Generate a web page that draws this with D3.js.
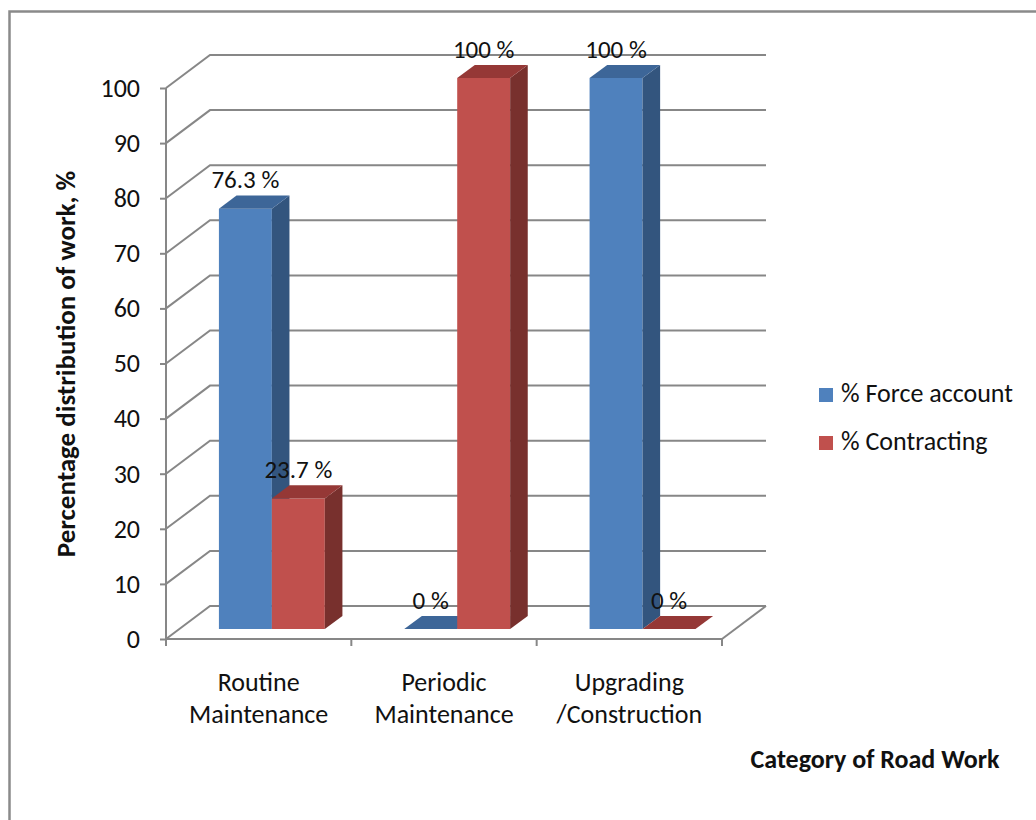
<!DOCTYPE html>
<html>
<head>
<meta charset="utf-8">
<script src="https://cdn.jsdelivr.net/npm/d3@7"></script>
<style>
  html, body { margin: 0; padding: 0; background: #fff; }
  svg text { font-family: Carlito, Calibri, Lato, "Open Sans", sans-serif; fill: #111; }
</style>
</head>
<body>
<svg id="chart" width="1036" height="820"></svg>
<script>
// Work distribution by road-work category
const categories = [["Routine", "Maintenance"], ["Periodic", "Maintenance"], ["Upgrading", "/Construction"]];
const seriesNames = ["% Force account", "% Contracting"];
const forceAccount = [76.3, 0, 100];
const contracting = [23.7, 100, 0];
const valueLabels = [["76.3 %", "0 %", "100 %"], ["23.7 %", "100 %", "0 %"]];
const yTicks = [0, 10, 20, 30, 40, 50, 60, 70, 80, 90, 100];

const seriesValues = [forceAccount, contracting];
const palette = [
  { front: "#4F81BD", top: "#3D6698", side: "#33557E" },
  { front: "#C0504D", top: "#953836", side: "#78302D" }
];

const svg = d3.select("#chart");

// Outer chart frame
svg.append("rect")
  .attr("x", 9.5).attr("y", 11.5)
  .attr("width", 1040).attr("height", 830)
  .attr("fill", "none").attr("stroke", "#8a8a8a").attr("stroke-width", 2.5);

// Front plane of the plot and the depth vector of the 3D box
const plotLeft = 166, plotRight = 722;
const depth = { dx: 44, dy: -33 };

const y = d3.scaleLinear().domain([0, 100]).range([639, 88]);
const catKeys = categories.map(c => c.join(" "));
const x0 = d3.scaleBand().domain(catKeys).range([plotLeft, plotRight]).padding(0);
const bw = x0.bandwidth();
const gap = bw / (seriesNames.length + 1.5) * 1.5;
const x1 = d3.scaleBand().domain(d3.range(seriesNames.length))
  .range([gap / 2, bw - gap / 2]).padding(0);

// Depth fractions occupied by the bars
const zFront = 0.3, zBack = 0.7;
const proj = (px, py, z) => [px + depth.dx * z, py + depth.dy * z];

const gridColor = "#878787";
const grid = svg.append("g");

// Side wall and back wall gridlines
yTicks.forEach(t => {
  const a = proj(plotLeft, y(t), 0);
  const b = proj(plotLeft, y(t), 1);
  const c = proj(plotRight, y(t), 1);
  grid.append("polyline")
    .attr("points", [a, b, c].map(p => p.join(",")).join(" "))
    .attr("fill", "none").attr("stroke", gridColor).attr("stroke-width", 2);
});

// Floor right edge
{
  const a = proj(plotRight, y(0), 0);
  const b = proj(plotRight, y(0), 1);
  grid.append("line")
    .attr("x1", a[0]).attr("y1", a[1]).attr("x2", b[0]).attr("y2", b[1])
    .attr("stroke", gridColor).attr("stroke-width", 2);
}

// Value axis
const yAxis = svg.append("g")
  .attr("transform", `translate(${plotLeft},0)`)
  .call(d3.axisLeft(y).tickValues(yTicks).tickSize(6).tickPadding(20));
yAxis.select(".domain").attr("stroke", gridColor).attr("stroke-width", 2)
  .attr("d", `M0,${y(100)}V${y(0)}`);
yAxis.selectAll(".tick line").attr("stroke", gridColor).attr("stroke-width", 2);
yAxis.selectAll(".tick text")
  .attr("font-size", 26).attr("fill", "#111")
  .style("font-family", "Carlito, Calibri, Lato, sans-serif");

// Category axis along the front edge of the floor
const xAxis = svg.append("g")
  .attr("transform", `translate(0,${y(0)})`);
xAxis.append("line")
  .attr("x1", plotLeft).attr("x2", plotRight).attr("y1", 0).attr("y2", 0)
  .attr("stroke", gridColor).attr("stroke-width", 2);
const xTickPos = catKeys.map(k => x0(k)).concat([plotRight]);
xAxis.selectAll("line.tick").data(xTickPos).join("line")
  .attr("class", "tick")
  .attr("x1", d => d).attr("x2", d => d).attr("y1", 0).attr("y2", 7)
  .attr("stroke", gridColor).attr("stroke-width", 2);

categories.forEach((lines, i) => {
  const cx = x0(catKeys[i]) + bw / 2;
  const t = svg.append("text")
    .attr("text-anchor", "middle").attr("font-size", 26);
  lines.forEach((ln, j) => {
    t.append("tspan").attr("x", cx).attr("y", 691 + j * 32).text(ln);
  });
});

// 3D bars
const bars = svg.append("g");
const pt = p => p.join(",");
catKeys.forEach((k, ci) => {
  seriesValues.forEach((vals, si) => {
    const v = vals[ci];
    const xl = x0(k) + x1(si);
    const xr = xl + x1.bandwidth();
    const yb = y(0), yt = y(v);
    const col = palette[si];
    const fl = proj(xl, yt, zFront), fr = proj(xr, yt, zFront);
    const bl = proj(xl, yt, zBack), br = proj(xr, yt, zBack);
    const fbl = proj(xl, yb, zFront), fbr = proj(xr, yb, zFront);
    const bbr = proj(xr, yb, zBack);
    if (v > 0) {
      bars.append("polygon").attr("points", [fl, fr, fbr, fbl].map(pt).join(" "))
        .attr("fill", col.front);
      bars.append("polygon").attr("points", [fr, br, bbr, fbr].map(pt).join(" "))
        .attr("fill", col.side);
    }
    bars.append("polygon").attr("points", [fl, bl, br, fr].map(pt).join(" "))
      .attr("fill", col.top);
  });
});

// Value labels above each bar, centred on the bar's front face
catKeys.forEach((k, ci) => {
  seriesValues.forEach((vals, si) => {
    const v = vals[ci];
    const cx = x0(k) + x1(si) + x1.bandwidth() / 2;
    const px = proj(cx, y(v), zFront)[0];
    const py = proj(cx, y(v), zBack)[1];
    svg.append("text")
      .attr("x", px).attr("y", py - 7)
      .attr("text-anchor", "middle").attr("font-size", 25)
      .text(valueLabels[si][ci]);
  });
});

// Legend
const legend = svg.append("g").attr("transform", "translate(819,388)");
seriesNames.forEach((name, i) => {
  const g = legend.append("g").attr("transform", `translate(0,${i * 48})`);
  g.append("rect").attr("width", 14).attr("height", 14).attr("fill", palette[i].front);
  g.append("text").attr("x", 22).attr("y", 14).attr("font-size", 26).text(name);
});

// Axis titles
svg.append("text")
  .attr("transform", "translate(75,364) rotate(-90)")
  .attr("text-anchor", "middle").attr("font-size", 27).attr("font-weight", "bold")
  .text("Percentage distribution of work, %");

svg.append("text")
  .attr("x", 875).attr("y", 768)
  .attr("text-anchor", "middle").attr("font-size", 26).attr("font-weight", "bold")
  .text("Category of Road Work");
</script>
</body>
</html>
